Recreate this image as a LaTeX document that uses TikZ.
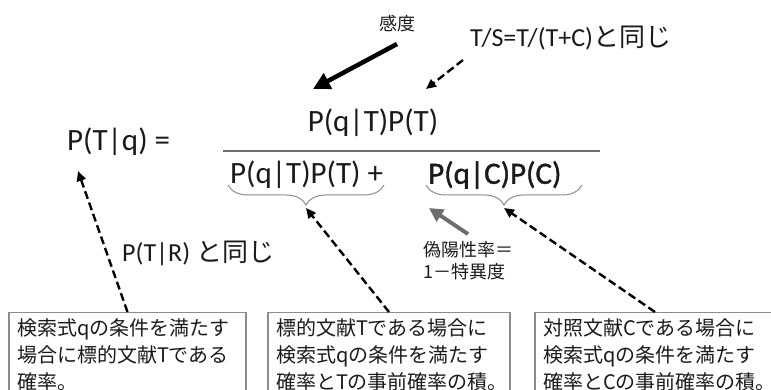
\documentclass[tikz,border=0pt]{standalone}
\usepackage{fontspec}
\setmainfont{Carlito}
\newfontfamily\jp{Noto Sans CJK JP}
\newfontfamily\heavyfont[FakeBold=1.2]{Carlito}
\usetikzlibrary{arrows.meta,decorations.pathreplacing}
\definecolor{txt}{HTML}{1A1A1A}
\definecolor{boxgray}{HTML}{8C8C8C}
\definecolor{arrgray}{HTML}{6E6E6E}
\begin{document}
\begin{tikzpicture}[x=1pt,y=-1pt,
  formula/.style={font=\fontsize{31}{36}\selectfont, text=txt, inner sep=0pt},
  midtext/.style={font=\fontsize{26}{30}\selectfont, text=txt, inner sep=0pt},
  smalljp/.style={font=\jp\fontsize{18}{22}\selectfont, text=txt, inner sep=0pt, align=left},
  infobox/.style={draw=boxgray, line width=1.4pt, anchor=north, text width=#1,
    align=left, inner xsep=8pt, inner ysep=6pt, text=txt,
    font=\jp\fontsize{20}{27}\selectfont},
  dasharrow/.style={line width=2.4pt, dash pattern=on 8pt off 4pt,
    -{Triangle[length=10pt,width=9pt]}},
  bracestyle/.style={draw=boxgray, line width=1pt,
    decorate, decoration={brace, amplitude=20pt}},
]
\useasboundingbox (0,0) rectangle (771,390);
\clip (0,0) rectangle (771,390);

% top labels
\node[smalljp, anchor=center] (kando) at (397,24) {感度};
\node[midtext, anchor=west] (ts) at (470,38) {T/S=T/(T+C){\jp と同じ}};

% formula
\node[formula, anchor=west] (lhs) at (67,142) {P(T|q) =};
\node[formula] (num) at (373,123) {P(q|T)P(T)};
\coordinate (fracL) at (223,151);
\coordinate (fracR) at (600,151);
\draw[draw=arrgray, line width=1.5pt] (fracL) -- (fracR);
\node[formula, anchor=west] (d1) at (230,175) {P(q|T)P(T) +};
\node[formula, anchor=west] (d2) at (428,175) {\heavyfont P(q|C)P(C)};

% braces
\coordinate (b1r) at (384,185);
\coordinate (b1l) at (228,185);
\coordinate (b2r) at (582,185);
\coordinate (b2l) at (426,185);
\draw[bracestyle] (b1r) -- (b1l);
\draw[bracestyle] (b2r) -- (b2l);
\coordinate (tip1) at (306,208);
\coordinate (tip2) at (504,208);

% side labels
\node[midtext, anchor=west] (same) at (122,253) {P(T|R) {\jp と同じ}};
\node[smalljp, anchor=north west] (fp) at (423,241) {偽陽性率＝\\1－特異度};

% boxes
\node[infobox=221pt] (box1) at (127.5,312) {検索式qの条件を満たす\\場合に標的文献Tである\\確率。};
\node[infobox=226pt] (box2) at (389,312) {標的文献Tである場合に\\検索式qの条件を満たす\\確率とTの事前確率の積。};
\node[infobox=224pt] (box3) at (655,312) {対照文献Cである場合に\\検索式qの条件を満たす\\確率とCの事前確率の積。};

% arrows
\coordinate (sensS) at (397,44);
\coordinate (sensE) at (313,89);
\draw[line width=4.5pt, -{Triangle[length=17pt,width=17pt]}] (sensS) -- (sensE);
\coordinate (tsS) at (463,60);
\coordinate (tsE) at (426,89);
\draw[dasharrow] (tsS) -- (tsE);
\coordinate (lhsE) at (78,171);
\draw[dasharrow] (box1.north) -- (lhsE);
\draw[dasharrow] (box2.north) -- (tip1);
\draw[dasharrow] (box3.north) -- (tip2);
\coordinate (gS) at (468,234);
\coordinate (gE) at (429,208);
\draw[draw=arrgray, line width=4pt, -{Triangle[length=14pt,width=14pt]}] (gS) -- (gE);
\end{tikzpicture}
\end{document}
